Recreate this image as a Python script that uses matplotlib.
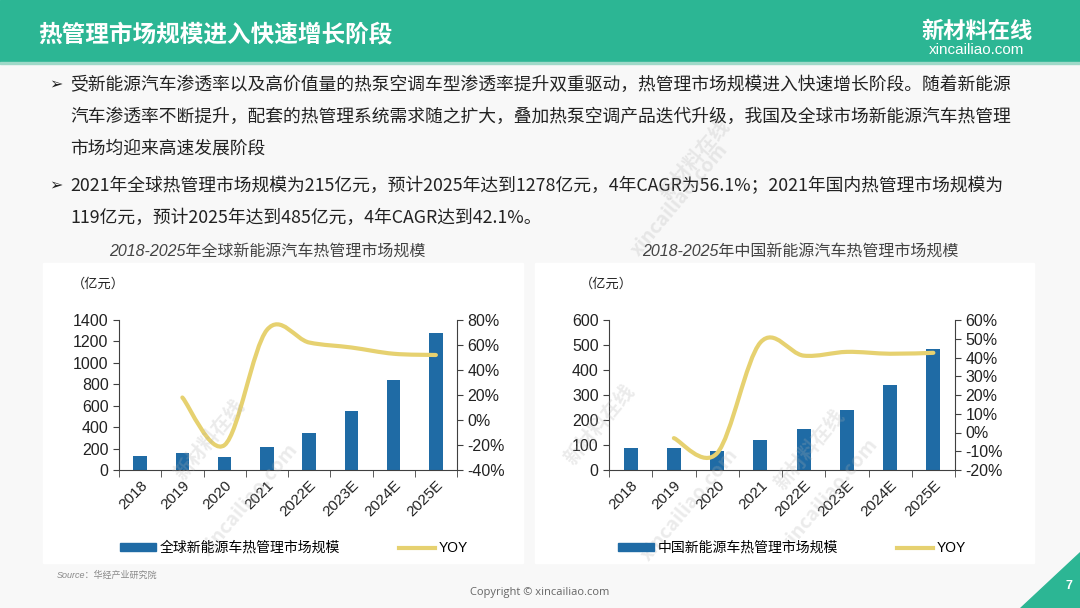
import numpy as np
import matplotlib
matplotlib.use('Agg')
import matplotlib.pyplot as plt
from matplotlib.patches import Rectangle, Polygon, PathPatch, Patch
from matplotlib.lines import Line2D
from matplotlib.path import Path

plt.rcParams['font.family'] = ['Liberation Sans', 'Noto Sans CJK SC', 'DejaVu Sans']

# data
years = ['2018', '2019', '2020', '2021', '2022E', '2023E', '2024E', '2025E']
global_size = [129, 160, 122, 215, 348, 549, 840, 1278]
global_yoy = [np.nan, 18, -20, 72, 62, 58, 53, 52]
china_size = [90, 87, 78, 119, 165, 239, 340, 485]
china_yoy = [np.nan, -3, -11, 48, 41, 43, 42, 42.5]

GREEN = '#2CB694'
BLUE = '#1F6BA5'
YELLOW = '#E6D170'
CJK = ['Noto Sans CJK SC', 'DejaVu Sans']

W, H = 1080, 608
def fx(px):
    return px / W
def fy(py):
    return 1 - py / H

fig = plt.figure(figsize=(10.8, 6.08), dpi=100)
fig.patch.set_facecolor('#F8F8F8')

# header band
fig.add_artist(Rectangle((0, fy(62)), 1, 62 / H, transform=fig.transFigure, color=GREEN, zorder=0))
fig.add_artist(Rectangle((0, fy(64)), 1, 2 / H, transform=fig.transFigure, color='#9ED9C8', zorder=0))
fig.text(fx(38), fy(34), '热管理市场规模进入快速增长阶段', color='white', fontsize=17,
         fontweight='bold', family=CJK, va='center')
fig.text(fx(977), fy(31), '新材料在线', color='white', fontsize=16, fontweight='bold',
         family=CJK, va='center', ha='center')
fig.text(fx(977), fy(50), 'xincailiao.com', color='white', fontsize=11,
         va='center', ha='center')

# bullet text
lines = [
    (85, True, '受新能源汽车渗透率以及高价值量的热泵空调车型渗透率提升双重驱动，热管理市场规模进入快速增长阶段。随着新能源'),
    (117, False, '汽车渗透率不断提升，配套的热管理系统需求随之扩大，叠加热泵空调产品迭代升级，我国及全球市场新能源汽车热管理'),
    (149, False, '市场均迎来高速发展阶段'),
    (186, True, '2021年全球热管理市场规模为215亿元，预计2025年达到1278亿元，4年CAGR为56.1%；2021年国内热管理市场规模为'),
    (218, False, '119亿元，预计2025年达到485亿元，4年CAGR达到42.1%。'),
]
for y, bullet, txt in lines:
    if bullet:
        fig.text(fx(49), fy(y), '➢', family='DejaVu Sans', fontsize=11.5, color='#222222', va='center')
    fig.text(fx(70), fy(y), txt, family=['Noto Sans CJK SC', 'DejaVu Sans'], fontsize=12.8,
             color='#222222', va='center')

# watermarks
marks = [(695, 160, '新材料在线'), (600, 425, '新材料在线'), (210, 440, '新材料在线'),
         (810, 450, '新材料在线'), (680, 200, 'xincailiao.com'), (250, 500, 'xincailiao.com'),
         (690, 505, 'xincailiao.com'), (830, 495, 'xincailiao.com')]
for x, y, t in marks:
    fig.text(fx(x), fy(y), t, rotation=50, fontsize=14, color='#B0B0B0', alpha=0.25,
             ha='center', va='center', family=CJK, fontweight='bold', zorder=5)

# white chart boxes
for x0, x1 in [(43, 523), (535, 1034)]:
    fig.add_artist(Rectangle((fx(x0), fy(563)), (x1 - x0) / W, 300 / H,
                             transform=fig.transFigure, color='white', zorder=0))


def smooth_line(ax, xs, ys, **kw):
    pts = np.column_stack([xs, ys])
    verts = [pts[0]]
    codes = [Path.MOVETO]
    n = len(pts)
    for i in range(n - 1):
        p0 = pts[max(i - 1, 0)]
        p1 = pts[i]
        p2 = pts[i + 1]
        p3 = pts[min(i + 2, n - 1)]
        verts += [p1 + (p2 - p0) / 6, p2 - (p3 - p1) / 6, p2]
        codes += [Path.CURVE4] * 3
    ax.add_patch(PathPatch(Path(verts, codes), fill=False, **kw))


def chart(left, right, sizes, yoy, ymax, ystep, pmin, pmax, pstep, title, tcx, unit_x, legend_label, leg_x):
    ax = fig.add_axes([fx(left), fy(470), (right - left) / W, 150 / H])
    ax.set_facecolor('none')
    x = np.arange(len(years))
    ax.bar(x, sizes, width=0.32, color=BLUE, zorder=2)
    ax.set_xlim(-0.5, len(years) - 0.5)
    ax.set_ylim(0, ymax)
    ax.set_yticks(np.arange(0, ymax + 1, ystep))
    ax.set_xticks(x)
    ax.set_xticklabels(years, rotation=45, ha='right', rotation_mode='anchor')
    ax.set_xticks(np.arange(-0.5, len(years), 1), minor=True)
    ax.tick_params(axis='x', which='major', length=0, pad=6, labelsize=11, colors='#222222')
    ax.tick_params(axis='x', which='minor', length=5, direction='out', color='#404040')
    ax.tick_params(axis='y', length=4, direction='out', labelsize=11.5, colors='#222222', color='#404040')
    for s in ['top', 'right']:
        ax.spines[s].set_visible(False)
    for s in ['left', 'bottom']:
        ax.spines[s].set_color('#404040')

    ax2 = ax.twinx()
    ax2.set_ylim(pmin, pmax)
    ax2.set_yticks(np.arange(pmin, pmax + 1, pstep))
    ax2.set_yticklabels([f'{v}%' for v in np.arange(pmin, pmax + 1, pstep)])
    ax2.tick_params(axis='y', length=4, direction='out', labelsize=11.5, colors='#222222', color='#404040')
    for s in ['top', 'left', 'bottom']:
        ax2.spines[s].set_visible(False)
    ax2.spines['right'].set_color('#404040')
    yy = np.array(yoy, dtype=float)
    ok = ~np.isnan(yy)
    smooth_line(ax2, x[ok], yy[ok], ec=YELLOW, lw=3, capstyle='round', joinstyle='round', zorder=3)

    fig.text(fx(tcx), fy(252), title, style='italic', fontsize=11.5, color='#444444',
             ha='center', va='center')
    fig.text(fx(unit_x), fy(284), '（亿元）', family=CJK, fontsize=9.5, color='#222222', va='center')

    handles = [Patch(color=BLUE), Line2D([], [], color=YELLOW, lw=3)]
    fig.legend(handles, [legend_label, 'YOY'], loc='center', bbox_to_anchor=(fx(leg_x), fy(548)),
               bbox_transform=fig.transFigure, ncol=2, frameon=False, handlelength=2.6,
               handleheight=0.5, handletextpad=0.3, columnspacing=4.2,
               prop={'size': 10, 'family': ['Liberation Sans', 'Noto Sans CJK SC']})


chart(119, 457, global_size, global_yoy, 1400, 200, -40, 80, 20,
      '2018-2025年全球新能源汽车热管理市场规模', 267, 72, '全球新能源车热管理市场规模', 294)
chart(609, 955, china_size, china_yoy, 600, 100, -20, 60, 10,
      '2018-2025年中国新能源汽车热管理市场规模', 800, 580, '中国新能源车热管理市场规模', 792)

# footer
fig.text(fx(57), fy(575), 'Source：华经产业研究院', style='italic', fontsize=6.5, color='#888888', va='center')
fig.text(0.5, fy(592), 'Copyright © xincailiao.com', fontsize=8, color='#666666', ha='center', va='center',
         family=['Open Sans', 'DejaVu Sans'])
fig.add_artist(Polygon([(fx(1020), 0), (1, 0), (1, fy(552))], closed=True,
                       transform=fig.transFigure, color=GREEN))
fig.text(fx(1069), fy(586), '7', color='white', fontsize=9, fontweight='bold', ha='center', va='center')

fig.savefig('out.png', dpi=100, facecolor=fig.get_facecolor())
